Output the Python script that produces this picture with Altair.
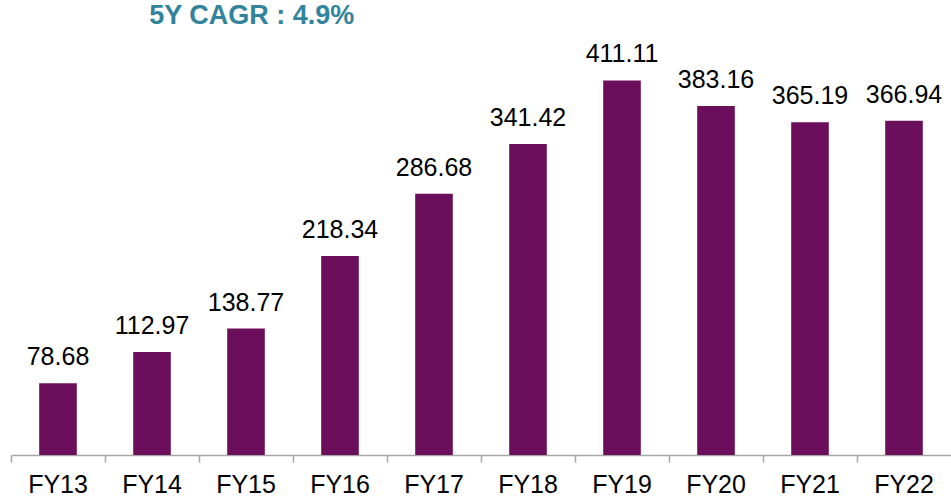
import altair as alt
import pandas as pd

years = ["FY13", "FY14", "FY15", "FY16", "FY17", "FY18", "FY19", "FY20", "FY21", "FY22"]
values = [78.68, 112.97, 138.77, 218.34, 286.68, 341.42, 411.11, 383.16, 365.19, 366.94]
labels = ["78.68", "112.97", "138.77", "218.34", "286.68", "341.42", "411.11", "383.16", "365.19", "366.94"]
title_text = "5Y CAGR : 4.9%"

df = pd.DataFrame({"year": years, "value": values, "label": labels})

FONT = "Liberation Sans"

x = alt.X("year:N", sort=years, title=None,
          scale=alt.Scale(paddingInner=0, paddingOuter=0),
          axis=alt.Axis(labelAngle=0, labelFont=FONT, labelFontSize=25, labelColor="#000000",
                        domainColor="#A6A6A6", tickColor="#A6A6A6", tickSize=7, tickWidth=1.5,
                        domainWidth=1.5, bandPosition=0, labelPadding=10))
y = alt.Y("value:Q", scale=alt.Scale(domain=[0, 450]), axis=None)

bars = alt.Chart(df).mark_bar(color="#6B0E5B", width=alt.RelativeBandSize(0.4)).encode(x=x, y=y)
text = alt.Chart(df).mark_text(font=FONT, fontSize=25, color="#000000", baseline="bottom", dy=-13).encode(
    x=x, y=y, text="label:N")

chart = (bars + text).properties(
    width=940, height=410,
    title=alt.TitleParams(title_text, anchor="start", dx=139, fontSize=27, fontWeight="bold",
                          color="#31849B", font=FONT, offset=12),
    autosize=alt.AutoSizeParams(type="none"),
    padding={"left": 11, "top": 45, "right": 0, "bottom": 45},
).configure_view(stroke=None)

chart.save("out.html", embed_options={"renderer": "svg", "actions": False})
